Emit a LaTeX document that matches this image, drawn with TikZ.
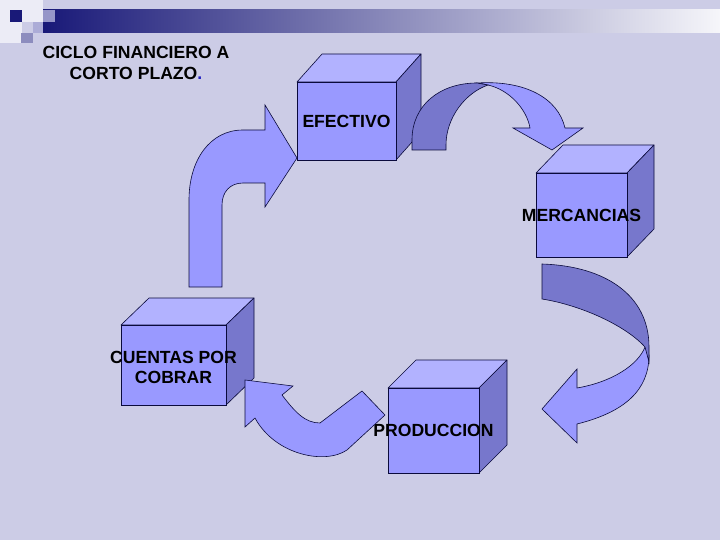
\documentclass[tikz,border=0pt]{standalone}
\usepackage{fontspec}
\setmainfont{Liberation Sans}
\definecolor{bg}{RGB}{204,204,230}
\definecolor{facec}{RGB}{153,153,255}
\definecolor{topc}{RGB}{178,178,255}
\definecolor{sidec}{RGB}{119,119,204}
\definecolor{edgec}{RGB}{10,10,60}
\definecolor{navyc}{RGB}{25,25,120}
\definecolor{midbar}{RGB}{145,145,180}
\definecolor{barend}{RGB}{246,246,250}
\definecolor{whitish}{RGB}{236,236,246}
\definecolor{sqa}{RGB}{150,150,200}
\definecolor{sqb}{RGB}{172,172,215}
\definecolor{sqc}{RGB}{140,140,190}
\definecolor{dotc}{RGB}{32,32,192}
\tikzset{
  face/.style={draw=edgec, fill=facec, line width=0.6pt, outer sep=0pt, inner sep=0pt,
    font=\fontsize{17.6}{20}\selectfont\bfseries, text=black},
  topface/.style={draw=edgec, fill=topc, line width=0.6pt, line join=round},
  sideface/.style={draw=edgec, fill=sidec, line width=0.6pt, line join=round},
  arrlight/.style={draw=edgec, fill=facec, line width=0.6pt, line join=miter},
  arrdark/.style={draw=edgec, fill=sidec, line width=0.6pt, line join=miter},
  titletext/.style={font=\fontsize{17.6}{21}\selectfont\bfseries, align=center, text=black}
}
% #1 name, #2 cx, #3 cy, #4 w, #5 h, #6 dx, #7 dy, #8 text
\newcommand\mkcube[8]{%
  \draw[topface] ({#2-#4/2},{#3-#5/2}) -- ++(#6,-#7) -- ++(#4,0) -- ({#2+#4/2},{#3-#5/2}) -- cycle;
  \draw[sideface] ({#2+#4/2},{#3-#5/2}) -- ++(#6,-#7) -- ++(0,#5) -- ({#2+#4/2},{#3+#5/2}) -- cycle;
  \node[face, minimum width=#4pt, minimum height=#5pt] (#1) at (#2,#3) {\makebox[0pt]{#8}};
}
\begin{document}
\begin{tikzpicture}[x=1pt,y=-1pt]
\fill[bg] (0,0) rectangle (720,540);
\useasboundingbox (0,0) rectangle (720,540);
% header decoration
\fill[whitish] (0,0) rectangle (43,22);
\fill[whitish] (0,22) rectangle (22,43);
\shade[left color=navyc, middle color=midbar, right color=barend] (43,10) rectangle (720,33);
\fill[navyc] (10,10) rectangle (22,22);
\fill[sqa] (43,10) rectangle (55,22);
\fill[sqb] (33,22) rectangle (43,33);
\fill[sqc] (21,33) rectangle (33,43);
% title
\node[titletext] (title) at (136,63) {CICLO FINANCIERO A\\CORTO PLAZO\textcolor{dotc}{.}};
% cubes
\mkcube{efe}{346.5}{121}{99}{78}{25}{28}{EFECTIVO}
\mkcube{mer}{581.5}{215}{91}{84}{27}{28}{MERCANCIAS}
\mkcube{cue}{173.5}{365}{105}{80}{28}{27}{\raisebox{-4pt}[\height][\depth]{\begin{tabular}{@{}c@{}}CUENTAS POR\\COBRAR\end{tabular}}}
\mkcube{pro}{433.5}{430.5}{91}{85}{28}{28}{PRODUCCION}
% arrow: cuentas -> efectivo
\draw[arrlight] (189,287) -- (189,200) .. controls (189,160) and (210,130) .. (243,130)
  -- (265,130) -- (265,105) -- (297,158) -- (265,207) -- (265,183) -- (243,183)
  .. controls (230,183) and (222,192) .. (222,205) -- (222,287) -- cycle;
% arrow: efectivo -> mercancias
\draw[arrlight] (477,83) .. controls (525,80) and (558,98) .. (565,128) -- (583,128)
  -- (552,150) -- (513,128) -- (530,128) .. controls (527,110) and (510,90) .. (488,85) -- cycle;
\draw[arrdark] (412,150) -- (412,140) .. controls (412,105) and (440,83) .. (477,83)
  -- (488,85) .. controls (465,93) and (446,118) .. (446,145) -- (446,150) -- cycle;
% arrow: mercancias -> produccion
\draw[arrlight] (645,347) .. controls (638,365) and (612,382) .. (577,388) -- (577,369)
  -- (542,409) -- (577,443) -- (577,424) .. controls (625,412) and (649,390) .. (649,355) -- cycle;
\draw[arrdark] (542,264) .. controls (605,266) and (649,295) .. (649,347) -- (649,362)
  -- (645,347) .. controls (625,325) and (580,305) .. (542,299) -- cycle;
% arrow: produccion -> cuentas
\draw[arrlight] (245,380) -- (293,386) -- (282,395) .. controls (295,412) and (305,423) .. (320,423)
  -- (362,391) -- (385,415) -- (347,450) .. controls (325,465) and (275,455) .. (255,418)
  -- (245,427) -- cycle;
\end{tikzpicture}
\end{document}
